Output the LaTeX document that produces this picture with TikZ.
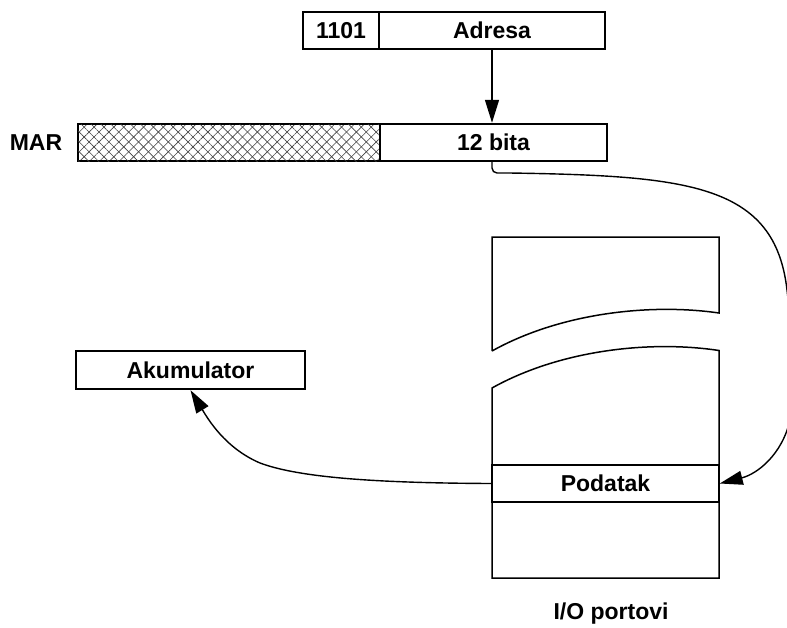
\documentclass[tikz,border=0pt]{standalone}
\usepackage{fontspec}
\setmainfont{Liberation Sans}
\usetikzlibrary{arrows.meta,patterns.meta}
\begin{document}
\begin{tikzpicture}[x=1pt,y=-1pt,
  every node/.style={font=\fontsize{23}{27}\selectfont\bfseries, text height=16.5pt, text depth=0pt, inner sep=0pt},
  regbox/.style={draw, line width=2.4pt, minimum height=37pt},
  memline/.style={line width=1.5pt, line join=miter},
  conn/.style={line width=1.4pt},
  tip/.style={-{Triangle[length=23pt,width=14pt]}},
  xhatch/.style={pattern={Lines[angle=45,distance=7pt,line width=0.6pt]}, pattern color=black!75,
    postaction={pattern={Lines[angle=-45,distance=7pt,line width=0.6pt]}, pattern color=black!75}}
]
\useasboundingbox (0,0) rectangle (787,627);

% top instruction register
\node[regbox, minimum width=76pt] (code) at (341,30.5) {1101};
\node[regbox, minimum width=226pt] (adresa) at (492,30.5) {Adresa};

% MAR
\node (marlbl) at (36,142.5) {MAR};
\node[regbox, minimum width=302pt, xhatch] (hatch) at (229,142.5) {};
\node[regbox, minimum width=227pt] (bita) at (493.5,142.5) {12 bita};

% Akumulator
\node[regbox, minimum width=229pt, minimum height=38pt] (akum) at (190.5,370) {Akumulator};

% I/O memory blocks
\draw[memline] (492,351) -- (492,237) -- (719,237) -- (719,313)
  .. controls (650,303) and (560,313) .. (492,351);
\draw[memline] (492,388) .. controls (560,350) and (650,340) .. (719,350.5)
  -- (719,578) -- (492,578) -- cycle;
\node[draw, memline, minimum width=227pt, minimum height=37pt] (podatak) at (605.5,483.5) {Podatak};
\node[anchor=base] (io) at (611,619) {I/O portovi};

% connectors
\draw[conn, tip] (adresa.south) -- (adresa.south |- bita.north);
\draw[conn, tip] (adresa.south |- bita.south) [rounded corners=5pt] |- (510,173) [sharp corners]
  .. controls (690,176) and (775,185) .. (787,290)
  .. controls (793,340) and (795,385) .. (790,420)
  .. controls (782,455) and (757,474) .. (podatak.east);
\draw[conn, tip] (podatak.west) .. controls (380,483) and (300,478) .. (260,463)
  .. controls (225,448) and (208,419) .. (akum.south);
\end{tikzpicture}
\end{document}
